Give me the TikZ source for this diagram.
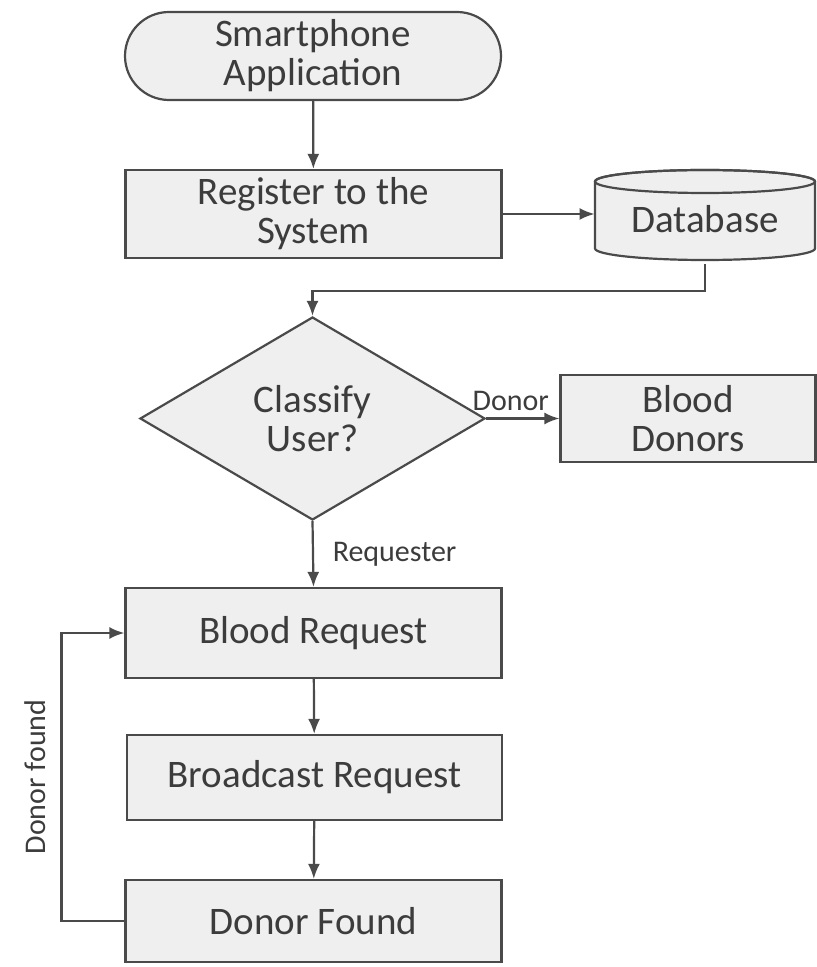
\documentclass[tikz,border=0pt]{standalone}
\usepackage{fontspec}
\setmainfont{Carlito}
\usetikzlibrary{arrows.meta,shapes.geometric}
\definecolor{boxfill}{HTML}{EFEFEF}
\definecolor{boxline}{HTML}{4A4A4A}
\definecolor{boxtext}{HTML}{3C3C3C}
\begin{document}
\begin{tikzpicture}[x=0.5pt,y=-0.5pt,
    every node/.style={text=boxtext, font=\fontsize{19.5}{19.5}\selectfont, align=center},
    stepbox/.style={draw=boxline, fill=boxfill, line width=1.1pt, minimum width=188pt, minimum height=44pt},
    startbox/.style={stepbox, rounded corners=22pt},
    decide/.style={diamond, draw=boxline, fill=boxfill, line width=1.1pt, inner sep=0pt, aspect=1.7, minimum width=172.5pt, minimum height=101.5pt},
    lbl/.style={font=\fontsize{15}{15}\selectfont},
    arr/.style={draw=boxline, line width=1.1pt, -{Latex[length=7.5pt,width=6pt]}}]
    \useasboundingbox (0,0) rectangle (817,967);

    \node[startbox] (app) at (313,56) {Smartphone\\Application};
    \node[stepbox] (reg) at (313.5,214) {Register to the\\System};

    % database drawn as a cylinder around its label
    \filldraw[draw=boxline, fill=boxfill, line width=1.1pt]
        (595,181.5) -- (595,248.5) arc[start angle=180, end angle=360, x radius=55pt, y radius=5.75pt]
        -- (815,181.5) arc[start angle=0, end angle=180, x radius=55pt, y radius=5.75pt] -- cycle;
    \draw[draw=boxline, line width=1.1pt] (705,181.5) ellipse[x radius=55pt, y radius=5.75pt];
    \node[minimum width=110pt, minimum height=45pt, inner sep=0pt] (db) at (705,219) {Database};

    \node[decide] (cls) at (312.5,418.5) {Classify\\User?};
    \node[stepbox, minimum width=127.5pt, minimum height=43.5pt] (donors) at (688,418.5) {Blood\\Donors};

    \node[stepbox, minimum height=45pt] (req) at (313.5,633) {Blood Request};
    \node[stepbox, minimum width=187.5pt, minimum height=42.5pt] (bcast) at (314.5,777.5) {Broadcast Request};
    \node[stepbox, minimum height=41pt] (found) at (313.5,921) {Donor Found};

    \node[lbl, rotate=90] (dflabel) at (35,777) {Donor found};

    \draw[arr] (app) -- (reg);
    \draw[arr] (reg.east) -- (reg.east -| db.west);
    \draw[arr] (db.south) -- ++(0,27) -| (cls.north);
    \draw[arr] (cls.east) -- node[lbl, above, xshift=-6pt] {Donor} (donors.west);
    \draw[arr] (cls.south) -- node[lbl, right, xshift=6pt] {Requester} (req.north);
    \draw[arr] (req) -- (bcast);
    \draw[arr] (bcast) -- (found);
    \draw[arr] (found.west) -- ++(-63,0) |- (req.west);
\end{tikzpicture}
\end{document}
